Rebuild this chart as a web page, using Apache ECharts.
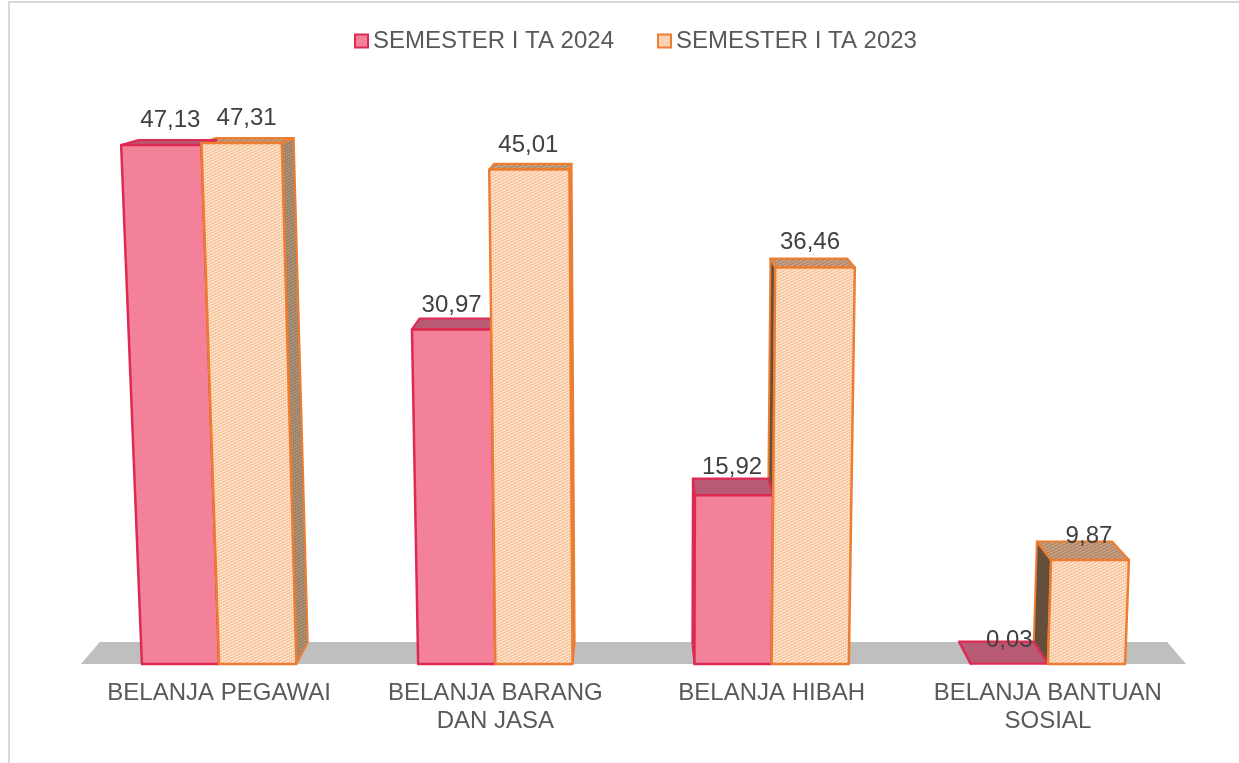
<!DOCTYPE html>
<html><head><meta charset="utf-8">
<style>html,body{margin:0;padding:0;background:#fff}#c{width:1239px;height:763px}</style>
<script src="https://cdn.jsdelivr.net/npm/echarts@6/dist/echarts.min.js"></script>
</head><body><div id="c"></div>
<script>
const categories = ['BELANJA PEGAWAI', 'BELANJA BARANG\nDAN JASA', 'BELANJA HIBAH', 'BELANJA BANTUAN\nSOSIAL'];
const seriesNames = ['SEMESTER I TA 2024', 'SEMESTER I TA 2023'];
const values2024 = [47.13, 30.97, 15.92, 0.03];
const values2023 = [47.31, 45.01, 36.46, 9.87];

// Hand placement of the value labels (x shift, rise above the back edge), as in the reference
const labelShift = [[9, 0, -2, 0], [5, -1, -5, -1]];
const labelRise = [[20, 13, 11, 1], [20, 19, 16, 5]];

const FONT = '"Liberation Sans", Arial, sans-serif';
const RED = '#dd2a52', ORANGE = '#ed7d31';

function hatch(a, b) {
  const c = document.createElement('canvas');
  c.width = 6; c.height = 6;
  const g = c.getContext('2d');
  for (let x = 0; x < 6; x++) for (let y = 0; y < 6; y++) {
    g.fillStyle = ((x + y * 2) % 6) < 3 ? a : b;
    g.fillRect(x, y, 1, 1);
  }
  return { image: c, repeat: 'repeat' };
}
const hFront = hatch('#fde2cc', '#f7c49b');
const hTop = hatch('#c9a080', '#b08a6e');
const hRight = hatch('#b3926f', '#94806d');
const hLeft = hatch('#5e4a38', '#6a5440');

// Perspective of the 3-D box, applied on top of the axis scales
const SKEW_X0 = 655, SKEW_K = 7.8e-5, HEIGHT_K = 1.2e-4, DEPTH_X0 = 633, DEPTH_K = 0.034, DEPTH_Y = 22, DEPTH_Y_K = 0.033;
function proj(x, h0, base, back) {
  const h = h0 * (1 + HEIGHT_K * h0);
  let px = SKEW_X0 + (x - SKEW_X0) * (1 + SKEW_K * h);
  let py = base - h;
  if (back) {
    px -= (px - DEPTH_X0) * DEPTH_K;
    py -= DEPTH_Y - DEPTH_Y_K * h;
  }
  return [px, py];
}
const poly = (points, fill, stroke, lw, z2) => ({
  type: 'polygon', shape: { points }, z2: z2 || 0,
  style: { fill, stroke, lineWidth: lw, lineJoin: 'round' }, silent: true
});

// z2 layers: the 2023 box's side lies behind the 2024 box; its front sits over the 2024 box
function boxRender(seriesIdx, palette) {
  const sideZ = seriesIdx ? 1 : 2, faceZ = seriesIdx ? 3 : 2;
  return function (params, api) {
    const cat = api.value(0), val = api.value(1);
    const c = api.coord([cat, 0]), t = api.coord([cat, val]);
    const w = api.size([1, 0])[0] * 0.2795;
    const x0 = c[0] + (seriesIdx - 1) * w, x1 = x0 + w, base = c[1], h0 = base - t[1];
    const fbl = proj(x0, 0, base), fbr = proj(x1, 0, base), ftl = proj(x0, h0, base), ftr = proj(x1, h0, base);
    const bbl = proj(x0, 0, base, 1), bbr = proj(x1, 0, base, 1), btl = proj(x0, h0, base, 1), btr = proj(x1, h0, base, 1);
    const kids = [];
    if (btr[0] > ftr[0]) kids.push(poly([fbr, bbr, btr, ftr], palette.right, palette.stroke, 2, sideZ));
    if (btl[0] < ftl[0]) kids.push(poly([fbl, bbl, btl, ftl], palette.left, palette.stroke, 2, sideZ));
    kids.push(poly([ftl, ftr, btr, btl], palette.top, palette.stroke, 2.2, sideZ));
    if (h0 > 1) kids.push(poly([fbl, fbr, ftr, ftl], palette.front, palette.stroke, 2.5, faceZ));
    return { type: 'group', children: kids };
  };
}
function floorRender(params, api) {
  if (params.dataIndex !== 0) return null;
  const a = api.coord([0, 0]), band = api.size([1, 0])[0], n = categories.length;
  const l = a[0] - band / 2, r = l + band * n, base = a[1];
  return poly([proj(l, 0, base), proj(r, 0, base), proj(r, 0, base, 1), proj(l, 0, base, 1)], '#bfbfbf', null, 0);
}
function labelRender(params, api) {
  const cat = api.value(0), val = api.value(1), s = api.value(2);
  const c = api.coord([cat, 0]), t = api.coord([cat, val]);
  const w = api.size([1, 0])[0] * 0.2795;
  const x0 = c[0] + (s - 1) * w, h0 = c[1] - t[1];
  const ftl = proj(x0, h0, c[1]), ftr = proj(x0 + w, h0, c[1]), btl = proj(x0, h0, c[1], 1);
  return {
    type: 'text', silent: true,
    style: {
      text: val.toFixed(2).replace('.', ','),
      x: (ftl[0] + ftr[0]) / 2 + labelShift[s][cat],
      y: btl[1] - labelRise[s][cat],
      align: 'center', verticalAlign: 'middle',
      fill: '#404040', font: '24px ' + FONT
    }
  };
}

const pair = a => a.map((v, i) => [i, v]);
const labelData = values2024.map((v, i) => [i, v, 0]).concat(values2023.map((v, i) => [i, v, 1]));

const chart = echarts.init(document.getElementById('c'), null, { renderer: 'canvas' });
chart.setOption({
  animation: false,
  backgroundColor: '#fff',
  graphic: [
    { type: 'rect', shape: { x: 9, y: 2, width: 1240, height: 780 }, style: { fill: 'none', stroke: '#d9d9d9', lineWidth: 2 }, silent: true, z: -1 }
  ],
  legend: {
    left: 349, top: 24, itemWidth: 13, itemHeight: 13, itemGap: 43,
    textStyle: { fontSize: 24, color: '#595959', fontFamily: FONT },
    data: [
      { name: seriesNames[0], icon: 'rect', itemStyle: { color: '#f4819a', borderColor: RED, borderWidth: 2 } },
      { name: seriesNames[1], icon: 'rect', itemStyle: { color: hFront, borderColor: ORANGE, borderWidth: 2 } }
    ]
  },
  grid: { left: 81, width: 1105, top: 40, height: 624 },
  xAxis: {
    type: 'category', data: categories,
    axisLine: { show: false }, axisTick: { show: false },
    axisLabel: { color: '#595959', fontSize: 24, fontFamily: FONT, lineHeight: 28, margin: 15, interval: 0 }
  },
  yAxis: { type: 'value', min: 0, max: 60, show: false, splitLine: { show: false } },
  series: [
    { name: 'floor', type: 'custom', coordinateSystem: 'cartesian2d', renderItem: floorRender, data: pair(values2024), z: 2, encode: { x: 0, y: 1 } },
    { name: seriesNames[0], type: 'custom', renderItem: boxRender(0, { front: '#f4819a', top: '#b95a74', right: '#b95a74', left: '#b5385a', stroke: RED }), data: pair(values2024), z: 2, encode: { x: 0, y: 1 }, itemStyle: { color: '#f4819a' } },
    { name: seriesNames[1], type: 'custom', renderItem: boxRender(1, { front: hFront, top: hTop, right: hRight, left: hLeft, stroke: ORANGE }), data: pair(values2023), z: 2, encode: { x: 0, y: 1 }, itemStyle: { color: '#fbd9bf' } },
    { name: 'labels', type: 'custom', renderItem: labelRender, data: labelData, z: 4, encode: { x: 0, y: 1 } }
  ]
});
</script></body></html>
